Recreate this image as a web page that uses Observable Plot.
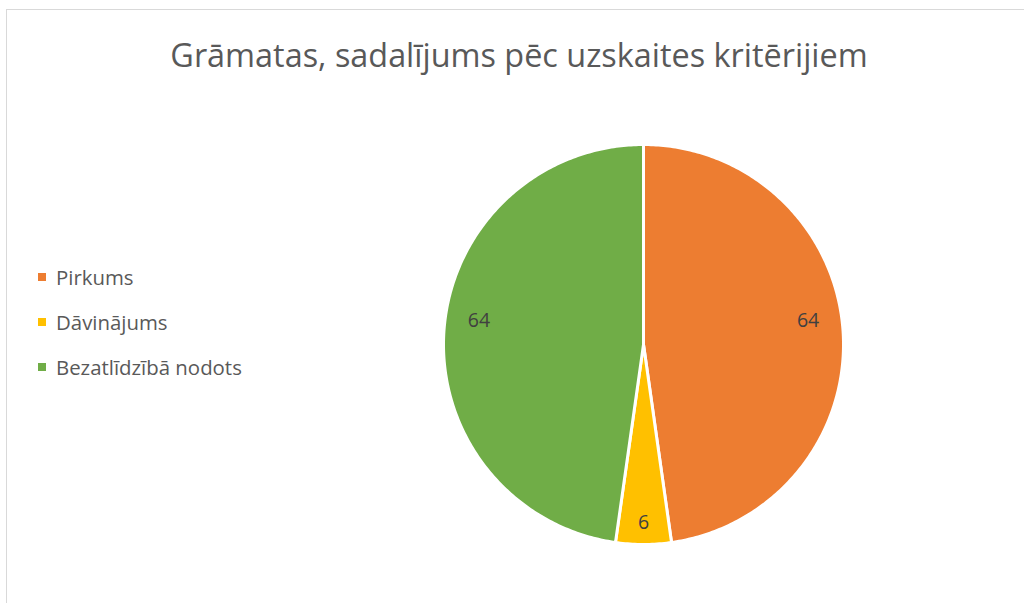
<!DOCTYPE html>
<html>
<head>
<meta charset="utf-8">
<script src="https://cdn.jsdelivr.net/npm/d3@7"></script>
<script src="https://cdn.jsdelivr.net/npm/@observablehq/plot@0.6"></script>
<style>
  html, body { margin: 0; padding: 0; background: #fff; overflow: hidden; }
  #wrap { position: relative; width: 1024px; height: 603px; font-family: "Open Sans", Lato, sans-serif; }
  #frame { position: absolute; left: 6px; top: 9px; width: 1040px; height: 620px; border: 1px solid #D9D9D9; box-sizing: border-box; }
  #title { position: absolute; left: 0; width: 1038px; top: 34px; line-height: 40px; text-align: center; font-size: 32.4px; color: #595959; white-space: nowrap; }
  #legend { position: absolute; left: 38px; top: 254px; }
  .item { display: flex; align-items: center; height: 45px; font-size: 20.4px; color: #595959; }
  .sw { width: 8px; height: 8px; margin-right: 10px; }
  #chart { position: absolute; left: 0; top: 0; }
</style>
</head>
<body>
<div id="wrap">
  <div id="frame"></div>
  <div id="chart"></div>
  <div id="title"></div>
  <div id="legend"></div>
</div>
<script>
const title = "Grāmatas, sadalījums pēc uzskaites kritērijiem";
const categories = ["Pirkums", "Dāvinājums", "Bezatlīdzībā nodots"];
const values = [64, 6, 64];
const colors = ["#ED7D31", "#FFC000", "#70AD47"];

const data = categories.map((c, i) => ({category: c, value: values[i]}));
const arcs = d3.pie().sort(null).value(d => d.value)(data);

// build slice outlines from pie angles (clockwise from 12 o'clock)
const outline = [];
arcs.forEach(a => {
  const cat = a.data.category;
  outline.push({category: cat, x: 0, y: 0});
  const n = Math.max(8, Math.ceil((a.endAngle - a.startAngle) * 80));
  for (let k = 0; k <= n; k++) {
    const t = a.startAngle + (a.endAngle - a.startAngle) * k / n;
    outline.push({category: cat, x: Math.sin(t), y: Math.cos(t)});
  }
});
const labels = arcs.map(a => {
  const m = (a.startAngle + a.endAngle) / 2;
  const small = a.data.value < 10;
  const r = small ? 0.89 : 0.825;
  return {category: a.data.category, value: a.data.value, x: r * Math.sin(m), y: r * Math.cos(m) + (small ? 0 : 0.06)};
});

const cx = 643, cy = 344, R = 200;
const plot = Plot.plot({
  width: 1024,
  height: 603,
  margin: 0,
  x: {domain: [-1, 1], range: [cx - R, cx + R], axis: null},
  y: {domain: [-1, 1], range: [cy + R, cy - R], axis: null},
  color: {domain: categories, range: colors},
  style: {background: "transparent", overflow: "visible"},
  marks: [
    Plot.line(outline, {x: "x", y: "y", z: "category", fill: "category", stroke: "white", strokeWidth: 3, strokeLinejoin: "round", curve: "linear-closed"}),
    Plot.text(labels, {x: "x", y: "y", text: d => String(d.value), fill: "#404040", fontSize: 19.5, fontFamily: "'Open Sans', Lato, sans-serif"})
  ]
});
document.getElementById("chart").appendChild(plot);
document.getElementById("title").textContent = title;
const leg = document.getElementById("legend");
categories.forEach((c, i) => {
  const it = document.createElement("div");
  it.className = "item";
  const sw = document.createElement("div");
  sw.className = "sw";
  sw.style.background = colors[i];
  const tx = document.createElement("span");
  tx.textContent = c;
  it.appendChild(sw); it.appendChild(tx);
  leg.appendChild(it);
});
</script>
</body>
</html>
